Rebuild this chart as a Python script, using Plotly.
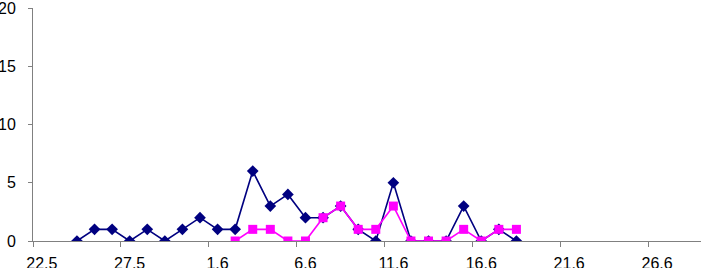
import plotly.graph_objects as go

categories = ["22.5","23.5","24.5","25.5","26.5","27.5","28.5","29.5","30.5","31.5",
              "1.6","2.6","3.6","4.6","5.6","6.6","7.6","8.6","9.6","10.6",
              "11.6","12.6","13.6","14.6","15.6","16.6","17.6","18.6","19.6","20.6",
              "21.6","22.6","23.6","24.6","25.6","26.6","27.6","28.6"]

navy_vals = [None, None, 0, 1, 1, 0, 1, 0, 1, 2,
             1, 1, 6, 3, 4, 2, 2, 3, 1, 0,
             5, 0, 0, 0, 3, 0, 1, 0]
pink_vals = [None]*11 + [0, 1, 1, 0, 0, 2, 3, 1, 1,
             3, 0, 0, 0, 1, 0, 1, 1]

y_ticks = [0, 5, 10, 15, 20]
label_step = 5

x_idx = list(range(len(categories)))
fig = go.Figure()
fig.add_trace(go.Scatter(x=x_idx[:len(navy_vals)], y=navy_vals, mode="lines+markers",
                         line=dict(color="#000080", width=1.6),
                         marker=dict(symbol="diamond", size=9, color="#000080"),
                         connectgaps=False))
fig.add_trace(go.Scatter(x=x_idx[:len(pink_vals)], y=pink_vals, mode="lines+markers",
                         line=dict(color="#FF00FF", width=1.6),
                         marker=dict(symbol="square", size=9, color="#FF00FF"),
                         connectgaps=False))

tv = x_idx[::label_step]
fig.update_layout(
    width=701, height=268, margin=dict(l=33, r=0, t=8, b=27, autoexpand=False),
    plot_bgcolor="white", paper_bgcolor="white", showlegend=False,
    font=dict(family="Liberation Sans, Arial, sans-serif", size=16, color="black"),
)
fig.update_xaxes(range=[-0.5, len(categories) - 0.5], tickvals=tv,
                 ticktext=[categories[i] for i in tv], ticks="", showgrid=False,
                 showline=True, linecolor="#808080", linewidth=1, zeroline=False,
                 ticklabelstandoff=8, automargin=False, ticklabeloverflow="allow",
                 minor=dict(tickvals=[i - 0.5 for i in tv], ticks="outside", ticklen=5,
                            tickcolor="#808080", showgrid=False))
fig.update_yaxes(range=[0, 20], tickvals=y_ticks, ticks="outside", ticklen=4,
                 tickcolor="#808080", showgrid=False, showline=True, linecolor="#808080",
                 linewidth=1, zeroline=False, ticklabelstandoff=9, automargin=False,
                 ticklabeloverflow="allow")
fig.write_html("out.html", config={"displayModeBar": False},
               post_script="document.body.style.margin='0';")
